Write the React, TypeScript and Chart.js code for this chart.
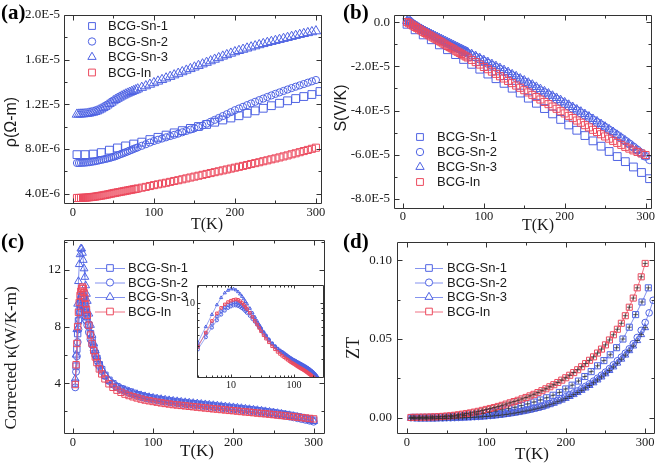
import React, { useEffect, useRef } from "react";
import { Chart, registerables } from "chart.js";
Chart.register(...registerables);

// ---------------- DATA ----------------
const NAMES = ["BCG-Sn-1", "BCG-Sn-2", "BCG-Sn-3", "BCG-In"];

const T_DENSE = [5, 10, 15, 20, 25, 30, 35, 40, 45, 50, 55, 60, 65, 70, 75, 80, 85, 90, 95, 100,
  105, 110, 115, 120, 125, 130, 135, 140, 145, 150, 155, 160, 165, 170, 175, 180, 185, 190, 195, 200,
  205, 210, 215, 220, 225, 230, 235, 240, 245, 250, 255, 260, 265, 270, 275, 280, 285, 290, 295, 300];
const T_LOW = [7.5, 12.5, 17.5, 22.5, 27.5, 32.5, 37.5, 42.5, 47.5, 52.5, 57.5, 62.5, 67.5, 72.5, 77.5];
const T_TAIL1 = [305];
const T_TAIL2 = [305, 310];
const T_SPARSE = [5, 15, 25, 35, 45, 55, 65, 75, 85, 95, 105, 115, 125, 135, 145, 155, 165, 175, 185, 195,
  205, 215, 225, 235, 245, 255, 265, 275, 285, 295, 305];

// (a) resistivity, in units of 1E-6 ohm-m
const A_SN1 = [7.50, 7.50, 7.55, 7.68, 7.90, 8.10, 8.28, 8.45, 8.62, 8.85, 9.05, 9.25, 9.45, 9.65, 9.85, 10.02,
  10.20, 10.40, 10.60, 10.78, 10.98, 11.20, 11.42, 11.65, 11.88, 12.10, 12.32, 12.52, 12.70, 12.88, 13.15];
const A_SN2 = [6.75, 6.76, 6.78, 6.82, 6.88, 6.95, 7.03, 7.11, 7.20, 7.30,
  7.43, 7.57, 7.71, 7.86, 8.01, 8.15, 8.29, 8.43, 8.58, 8.72,
  8.83, 8.94, 9.05, 9.16, 9.27, 9.38, 9.50, 9.62, 9.74, 9.86,
  9.98, 10.10, 10.27, 10.44, 10.61, 10.78, 10.95, 11.12, 11.30, 11.48,
  11.63, 11.78, 11.93, 12.08, 12.23, 12.38, 12.52, 12.66, 12.80, 12.94,
  13.07, 13.20, 13.33, 13.46, 13.58, 13.70, 13.82, 13.94, 14.06, 14.18];
const A_SN2_LOW = [6.75, 6.77, 6.80, 6.85, 6.91, 6.99, 7.07, 7.15, 7.25, 7.36, 7.50, 7.64, 7.78, 7.93, 8.08];
const A_SN3 = [11.10, 11.12, 11.15, 11.20, 11.28, 11.40, 11.58, 11.80, 12.05, 12.30,
  12.52, 12.72, 12.90, 13.06, 13.21, 13.36, 13.50, 13.64, 13.78, 13.92,
  14.06, 14.20, 14.34, 14.48, 14.62, 14.76, 14.90, 15.04, 15.18, 15.32,
  15.46, 15.60, 15.74, 15.88, 16.02, 16.16, 16.30, 16.43, 16.56, 16.69,
  16.80, 16.91, 17.02, 17.12, 17.22, 17.32, 17.42, 17.52, 17.61, 17.70,
  17.79, 17.88, 17.97, 18.06, 18.15, 18.24, 18.32, 18.40, 18.48, 18.56];
const A_SN3_LOW = [11.11, 11.13, 11.17, 11.24, 11.34, 11.49, 11.69, 11.92, 12.17, 12.41, 12.62, 12.81, 12.98, 13.13, 13.28];
const A_IN = [3.62, 3.63, 3.65, 3.68, 3.72, 3.77, 3.83, 3.90, 3.97, 4.05,
  4.12, 4.19, 4.26, 4.33, 4.40, 4.47, 4.54, 4.61, 4.69, 4.77,
  4.84, 4.91, 4.98, 5.06, 5.14, 5.21, 5.29, 5.37, 5.45, 5.53,
  5.61, 5.69, 5.77, 5.85, 5.93, 6.01, 6.09, 6.17, 6.25, 6.33,
  6.41, 6.49, 6.57, 6.66, 6.74, 6.82, 6.91, 6.99, 7.08, 7.16,
  7.25, 7.34, 7.43, 7.53, 7.62, 7.72, 7.82, 7.92, 8.02, 8.12];
const A_IN_LOW = [3.62, 3.64, 3.66, 3.70, 3.74, 3.80, 3.86, 3.93, 4.01, 4.08, 4.15, 4.22, 4.29, 4.36, 4.43];

// (b) Seebeck, in units of 1E-5 V/K
const B_SN1 = [-0.10, -0.35, -0.58, -0.80, -1.03, -1.25, -1.47, -1.69, -1.91, -2.13, -2.35, -2.56, -2.77, -2.99,
  -3.21, -3.44, -3.67, -3.91, -4.15, -4.40, -4.65, -4.89, -5.13, -5.37, -5.61, -5.85, -6.08, -6.31, -6.55, -6.80, -7.08];
const B_SN2 = [0.15, -0.02, -0.15, -0.27, -0.38, -0.48, -0.58, -0.68, -0.77, -0.87,
  -0.96, -1.05, -1.14, -1.23, -1.32, -1.41, -1.50, -1.59, -1.68, -1.77,
  -1.87, -1.96, -2.05, -2.14, -2.24, -2.33, -2.42, -2.52, -2.61, -2.71,
  -2.80, -2.90, -3.00, -3.10, -3.19, -3.29, -3.39, -3.49, -3.59, -3.69,
  -3.80, -3.90, -4.00, -4.11, -4.21, -4.32, -4.43, -4.54, -4.65, -4.76,
  -4.88, -5.00, -5.12, -5.25, -5.38, -5.51, -5.65, -5.79, -5.93, -6.07, -6.22];
const B_SN2_LOW = [0.06, -0.09, -0.21, -0.32, -0.43, -0.53, -0.63, -0.72, -0.82, -0.91, -1.00, -1.09, -1.18, -1.27, -1.36];
const B_SN3 = [0.05, -0.05, -0.16, -0.26, -0.36, -0.46, -0.55, -0.64, -0.73, -0.82,
  -0.91, -1.00, -1.09, -1.18, -1.27, -1.36, -1.45, -1.54, -1.63, -1.72,
  -1.81, -1.90, -1.99, -2.08, -2.17, -2.26, -2.36, -2.45, -2.55, -2.64,
  -2.74, -2.83, -2.93, -3.03, -3.13, -3.23, -3.33, -3.43, -3.53, -3.63,
  -3.74, -3.84, -3.95, -4.05, -4.16, -4.27, -4.38, -4.49, -4.61, -4.73,
  -4.85, -4.97, -5.10, -5.23, -5.36, -5.50, -5.64, -5.78, -5.93, -6.08];
const B_SN3_LOW = [0.00, -0.10, -0.21, -0.31, -0.41, -0.50, -0.59, -0.68, -0.77, -0.86, -0.95, -1.04, -1.13, -1.22, -1.31];
const B_IN = [0.00, -0.11, -0.22, -0.33, -0.44, -0.55, -0.65, -0.75, -0.86, -0.97,
  -1.08, -1.18, -1.29, -1.39, -1.50, -1.60, -1.71, -1.81, -1.92, -2.03,
  -2.13, -2.24, -2.34, -2.45, -2.55, -2.66, -2.76, -2.87, -2.97, -3.08,
  -3.18, -3.29, -3.39, -3.50, -3.61, -3.71, -3.82, -3.92, -4.03, -4.13,
  -4.24, -4.34, -4.45, -4.55, -4.66, -4.76, -4.87, -4.97, -5.07, -5.17,
  -5.27, -5.37, -5.46, -5.55, -5.64, -5.72, -5.80, -5.87, -5.94, -6.01];
const B_IN_LOW = [-0.05, -0.16, -0.27, -0.38, -0.49, -0.60, -0.70, -0.80, -0.91, -1.02, -1.13, -1.23, -1.34, -1.44, -1.55];

// (c) corrected thermal conductivity, W/K-m
const T_C = [3, 4, 5, 6, 7, 8, 9, 10, 11, 12, 13, 14, 15, 16, 17, 18, 20, 22, 24, 26, 28, 30, 33, 36, 40, 45, 50, 55, 60,
  65, 70, 75, 80, 85, 90, 95, 100, 105, 110, 115, 120, 125, 130, 135, 140, 145, 150, 155, 160, 165, 170, 175, 180,
  185, 190, 195, 200, 205, 210, 215, 220, 225, 230, 235, 240, 245, 250, 255, 260, 265, 270, 275, 280, 285, 290, 295, 300];
const C_SN1 = [4.0, 5.2, 6.4, 7.5, 8.4, 9.1, 9.6, 9.9, 10.1, 10.2, 10.1, 9.9, 9.6, 9.3, 9.0, 8.7,
  8.1, 7.5, 7.0, 6.5, 6.1, 5.75, 5.3, 4.95, 4.55, 4.2, 3.95, 3.75, 3.6,
  3.49, 3.38, 3.28, 3.18, 3.10, 3.03, 2.97, 2.92, 2.87, 2.82, 2.78, 2.74, 2.70, 2.67, 2.63, 2.6, 2.57, 2.54, 2.51,
  2.48, 2.45, 2.42, 2.39, 2.36, 2.33, 2.3, 2.27, 2.24, 2.21, 2.18, 2.15, 2.12, 2.09, 2.05, 2.02, 1.98, 1.94, 1.9,
  1.86, 1.82, 1.77, 1.72, 1.67, 1.62, 1.56, 1.5, 1.44, 1.37];
const C_SN2 = [3.7, 4.8, 5.9, 6.9, 7.8, 8.5, 9.0, 9.3, 9.5, 9.5, 9.4, 9.2, 8.95, 8.7, 8.4, 8.1,
  7.6, 7.1, 6.7, 6.3, 5.95, 5.6, 5.2, 4.85, 4.5, 4.15, 3.9, 3.7, 3.55,
  3.42, 3.3, 3.2, 3.1, 3.02, 2.95, 2.89, 2.83, 2.78, 2.73, 2.69, 2.65, 2.61, 2.58, 2.54, 2.51, 2.48, 2.45, 2.42,
  2.39, 2.36, 2.33, 2.3, 2.27, 2.24, 2.21, 2.18, 2.15, 2.12, 2.09, 2.06, 2.03, 2.0, 1.96, 1.93, 1.89, 1.85, 1.81,
  1.77, 1.73, 1.68, 1.63, 1.58, 1.52, 1.46, 1.4, 1.34, 1.27];
const C_SN3 = [4.3, 6.0, 7.8, 9.6, 11.2, 12.4, 13.1, 13.5, 13.5, 13.2, 12.7, 12.1, 11.5, 10.9, 10.3, 9.8,
  8.9, 8.1, 7.4, 6.8, 6.3, 5.9, 5.4, 5.0, 4.6, 4.2, 3.95, 3.75, 3.6,
  3.5, 3.4, 3.3, 3.21, 3.13, 3.06, 3.0, 2.95, 2.9, 2.86, 2.82, 2.78, 2.74, 2.71, 2.67, 2.64, 2.61, 2.58, 2.55,
  2.52, 2.49, 2.46, 2.43, 2.4, 2.37, 2.34, 2.31, 2.28, 2.25, 2.22, 2.18, 2.15, 2.11, 2.08, 2.04, 2.0, 1.96, 1.92,
  1.87, 1.82, 1.77, 1.72, 1.66, 1.6, 1.53, 1.46, 1.38, 1.3];
const C_IN = [3.9, 5.3, 6.8, 8.0, 9.0, 9.7, 10.2, 10.5, 10.7, 10.8, 10.7, 10.4, 10.0, 9.6, 9.2, 8.8,
  8.1, 7.4, 6.8, 6.3, 5.85, 5.45, 5.0, 4.65, 4.3, 3.95, 3.7, 3.5, 3.35,
  3.22, 3.12, 3.03, 2.95, 2.87, 2.8, 2.75, 2.7, 2.65, 2.6, 2.56, 2.52, 2.48, 2.45, 2.42, 2.39, 2.36, 2.33, 2.3,
  2.27, 2.24, 2.21, 2.18, 2.16, 2.13, 2.1, 2.07, 2.05, 2.02, 1.99, 1.96, 1.94, 1.91, 1.88, 1.85, 1.83, 1.8, 1.77,
  1.74, 1.71, 1.68, 1.65, 1.62, 1.59, 1.56, 1.53, 1.5, 1.47];

// (d) ZT
const D_T_SN1 = [8, 16, 24, 32, 40, 48, 56, 64, 72, 80, 88, 96, 104, 112, 120, 128, 136, 144, 152, 160,
  168, 176, 184, 192, 200, 208, 216, 224, 232, 240, 248, 256, 264, 272, 280, 288, 296, 304];
const D_SN1 = [0.0003, 0.0003, 0.0003, 0.0004, 0.0005, 0.0006, 0.0008, 0.0011, 0.0014, 0.0018,
  0.0023, 0.0028, 0.0035, 0.0042, 0.0050, 0.0058, 0.0067, 0.0077, 0.0088, 0.0100,
  0.0113, 0.0127, 0.0143, 0.0161, 0.0183, 0.0207, 0.0233, 0.0262, 0.0293, 0.0330,
  0.0363, 0.0400, 0.0445, 0.0500, 0.0575, 0.0655, 0.0735, 0.0825];
const D_SN2 = [0.0000, -0.0001, -0.0002, -0.0002, -0.0002, -0.0002, -0.0002, -0.0001, -0.0001, 0.0000,
  0.0000, 0.0001, 0.0002, 0.0003, 0.0004, 0.0005, 0.0007, 0.0008, 0.0010, 0.0012,
  0.0014, 0.0017, 0.0020, 0.0023, 0.0027, 0.0031, 0.0035, 0.0039, 0.0044, 0.0049,
  0.0055, 0.0061, 0.0067, 0.0074, 0.0082, 0.0091, 0.0101, 0.0111, 0.0122, 0.0134,
  0.0146, 0.0158, 0.0171, 0.0185, 0.0200, 0.0216, 0.0233, 0.0251, 0.0270, 0.0290,
  0.0312, 0.0336, 0.0362, 0.0385, 0.0410, 0.0438, 0.0470, 0.0510, 0.0555, 0.0605,
  0.0666, 0.0746];
const D_SN3 = [-0.0004, -0.0005, -0.0006, -0.0006, -0.0006, -0.0006, -0.0006, -0.0005, -0.0005, -0.0004,
  -0.0003, -0.0002, -0.0001, 0.0000, 0.0001, 0.0002, 0.0003, 0.0005, 0.0006, 0.0008,
  0.0010, 0.0012, 0.0015, 0.0018, 0.0021, 0.0025, 0.0029, 0.0033, 0.0038, 0.0043,
  0.0048, 0.0054, 0.0060, 0.0067, 0.0075, 0.0083, 0.0092, 0.0102, 0.0112, 0.0123,
  0.0135, 0.0147, 0.0160, 0.0174, 0.0189, 0.0205, 0.0222, 0.0240, 0.0259, 0.0279,
  0.0300, 0.0323, 0.0347, 0.0372, 0.0398, 0.0426, 0.0456, 0.0490, 0.0528, 0.0572];
const D_IN = [0.0002, 0.0003, 0.0003, 0.0004, 0.0004, 0.0005, 0.0006, 0.0007, 0.0009, 0.0011,
  0.0013, 0.0016, 0.0019, 0.0023, 0.0027, 0.0031, 0.0036, 0.0041, 0.0047, 0.0053,
  0.0059, 0.0065, 0.0072, 0.0079, 0.0087, 0.0095, 0.0103, 0.0111, 0.0120, 0.0129,
  0.0139, 0.0149, 0.0160, 0.0172, 0.0184, 0.0197, 0.0210, 0.0224, 0.0239, 0.0254,
  0.0270, 0.0287, 0.0305, 0.0324, 0.0344, 0.0365, 0.0387, 0.0411, 0.0436, 0.0463,
  0.0494, 0.0527, 0.0562, 0.0600, 0.0648, 0.0702, 0.0760, 0.0825, 0.0895, 0.0980];

// tick values
const T_MAJOR = [0, 100, 200, 300];
const T_MINOR = [50, 150, 250];
const A_Y_MAJOR = [4, 8, 12, 16, 20];
const A_Y_MINOR = [6, 10, 14, 18];
const B_Y_MAJOR = [0, -2, -4, -6, -8];
const B_Y_MINOR = [-1, -3, -5, -7];
const C_Y_MAJOR = [4, 8, 12];
const C_Y_MINOR = [2, 6, 10, 14];
const D_Y_MAJOR = [0, 0.05, 0.1];
const D_Y_MINOR = [0.025, 0.075];
const IN_X_MAJOR = [10, 100];
const IN_X_MINOR = [3, 4, 5, 6, 7, 8, 9, 20, 30, 40, 50, 60, 70, 80, 90, 200, 300];
const IN_Y_MAJOR = [10];
const IN_Y_MINOR = [2, 3, 4, 5, 6, 7, 8, 9];

// ---------------- STYLE ----------------
const SERIF = "'Liberation Serif', 'Times New Roman', serif";
const SANS = "'Liberation Sans', Arial, sans-serif";
const BLUE = "#4f63e3";
const RED = "#ec4a5e";
const BLUE_LINE = "rgba(110,128,236,0.85)";
const RED_LINE = "rgba(236,90,110,0.85)";
const TEXT = "#1a1a1a";
const FRAME = "#333333";
const CROSS = "rgba(45,45,45,0.75)";

type Mk = "rect" | "circle" | "triangle" | "cross";
type Item = { label: string; style: Mk; r: number; color: string; line?: string };
type TextPos = { text: string; x: number; y: number; font: string };
interface Spec {
  left: number; top: number; w: number; h: number;
  area: { l: number; t: number; r: number; b: number };
  xType: string; yType: string;
  xMin: number; xMax: number; yMin: number; yMax: number;
  xTicks: number[]; xMinor: number[]; yTicks: number[]; yMinor: number[];
  xFmt: (v: number) => string; yFmt: (v: number) => string;
  xFont: number; yFont: number; xPad: number; yPad: number;
  majorLen: number; minorLen: number;
  xTitle?: TextPos; yTitle?: TextPos; label?: TextPos;
  legend?: { items: Item[]; rows: number[]; mx: number; tx: number; lx0?: number; lx1?: number; font: string };
  datasets: any[];
  fillArea?: boolean;
}

function pts(xs: number[], ys: number[]) {
  return xs.map((x, i) => ({ x, y: ys[i] }));
}

function ds(label: string, xs: number[], ys: number[], style: Mk, r: number, color: string, extra: any = {}) {
  return {
    label,
    data: pts(xs, ys),
    pointStyle: style,
    pointRadius: r,
    pointBorderColor: color,
    pointBackgroundColor: "rgba(0,0,0,0)",
    pointBorderWidth: 1,
    showLine: false,
    borderColor: color,
    borderWidth: 1,
    order: 1,
    ...extra,
  };
}

function drawMarker(ctx: CanvasRenderingContext2D, style: Mk, x: number, y: number, r: number) {
  ctx.beginPath();
  if (style === "rect") {
    const s = r * Math.SQRT1_2;
    ctx.rect(x - s, y - s, 2 * s, 2 * s);
  } else if (style === "circle") {
    ctx.arc(x, y, r, 0, Math.PI * 2);
  } else if (style === "triangle") {
    ctx.moveTo(x, y - r);
    ctx.lineTo(x + 0.866 * r, y + 0.5 * r);
    ctx.lineTo(x - 0.866 * r, y + 0.5 * r);
    ctx.closePath();
  }
  ctx.fillStyle = "#ffffff";
  ctx.fill();
  ctx.stroke();
}

function makeDecor(s: Spec) {
  return {
    id: "decor",
    beforeDraw(chart: any) {
      if (!s.fillArea) return;
      const a = chart.chartArea;
      const ctx = chart.ctx;
      ctx.save();
      ctx.fillStyle = "#ffffff";
      ctx.fillRect(a.left, a.top, a.right - a.left, a.bottom - a.top);
      ctx.restore();
    },
    afterDraw(chart: any) {
      const ctx: CanvasRenderingContext2D = chart.ctx;
      const a = chart.chartArea;
      const xs = chart.scales.x;
      const ys = chart.scales.y;
      ctx.save();
      const L = Math.round(a.left) + 0.5;
      const R = Math.round(a.right) - 0.5;
      const T = Math.round(a.top) + 0.5;
      const B = Math.round(a.bottom) - 0.5;
      ctx.strokeStyle = FRAME;
      ctx.lineWidth = 1;
      ctx.beginPath();
      ctx.rect(L, T, R - L, B - T);
      const hTicks = (vals: number[], len: number) => {
        for (const v of vals) {
          const p = Math.round(xs.getPixelForValue(v)) + 0.5;
          if (p < L || p > R) continue;
          ctx.moveTo(p, B); ctx.lineTo(p, B - len);
          ctx.moveTo(p, T); ctx.lineTo(p, T + len);
        }
      };
      const vTicks = (vals: number[], len: number) => {
        for (const v of vals) {
          const p = Math.round(ys.getPixelForValue(v)) + 0.5;
          if (p < T || p > B) continue;
          ctx.moveTo(L, p); ctx.lineTo(L + len, p);
          ctx.moveTo(R, p); ctx.lineTo(R - len, p);
        }
      };
      hTicks(s.xTicks, s.majorLen);
      hTicks(s.xMinor, s.minorLen);
      vTicks(s.yTicks, s.majorLen);
      vTicks(s.yMinor, s.minorLen);
      ctx.stroke();

      ctx.fillStyle = TEXT;
      ctx.textBaseline = "middle";
      if (s.xTitle) {
        ctx.font = s.xTitle.font;
        ctx.textAlign = "center";
        ctx.fillText(s.xTitle.text, s.xTitle.x, s.xTitle.y);
      }
      if (s.yTitle) {
        ctx.save();
        ctx.font = s.yTitle.font;
        ctx.textAlign = "center";
        ctx.translate(s.yTitle.x, s.yTitle.y);
        ctx.rotate(-Math.PI / 2);
        ctx.fillText(s.yTitle.text, 0, 0);
        ctx.restore();
      }
      if (s.label) {
        ctx.font = s.label.font;
        ctx.textAlign = "left";
        ctx.fillStyle = "#000";
        ctx.fillText(s.label.text, s.label.x, s.label.y);
      }
      if (s.legend) {
        const lg = s.legend;
        lg.items.forEach((it, i) => {
          const y = lg.rows[i];
          if (lg.lx0 !== undefined && lg.lx1 !== undefined && it.line) {
            ctx.strokeStyle = it.line;
            ctx.lineWidth = 1;
            ctx.beginPath();
            ctx.moveTo(lg.lx0, y + 0.5);
            ctx.lineTo(lg.lx1, y + 0.5);
            ctx.stroke();
          }
          ctx.strokeStyle = it.color;
          ctx.lineWidth = 1;
          drawMarker(ctx, it.style, lg.mx, y, it.r);
          ctx.fillStyle = TEXT;
          ctx.font = lg.font;
          ctx.textAlign = "left";
          ctx.textBaseline = "middle";
          ctx.fillText(it.label, lg.tx, y + 0.5);
        });
      }
      ctx.restore();
    },
  };
}

function buildConfig(s: Spec): any {
  return {
    type: "line",
    data: { datasets: s.datasets },
    options: {
      animation: false,
      responsive: false,
      devicePixelRatio: 1,
      events: [],
      layout: { padding: { left: 0, top: s.area.t, right: s.w - s.area.r, bottom: 0 } },
      plugins: { legend: { display: false }, tooltip: { enabled: false }, title: { display: false } },
      scales: {
        x: {
          type: s.xType,
          min: s.xMin,
          max: s.xMax,
          grid: { display: false, drawTicks: false },
          border: { display: false },
          afterBuildTicks: (sc: any) => { sc.ticks = s.xTicks.map((v) => ({ value: v })); },
          afterFit: (sc: any) => { sc.height = s.h - s.area.b; },
          ticks: {
            autoSkip: false, maxRotation: 0, minRotation: 0, padding: s.xPad, color: TEXT,
            font: { family: SERIF, size: s.xFont },
            callback: (v: any) => s.xFmt(Number(v)),
          },
        },
        y: {
          type: s.yType,
          min: s.yMin,
          max: s.yMax,
          grid: { display: false, drawTicks: false },
          border: { display: false },
          afterBuildTicks: (sc: any) => { sc.ticks = s.yTicks.map((v) => ({ value: v })); },
          afterFit: (sc: any) => { sc.width = s.area.l; },
          ticks: {
            autoSkip: false, padding: s.yPad, color: TEXT,
            font: { family: SERIF, size: s.yFont },
            callback: (v: any) => s.yFmt(Number(v)),
          },
        },
      },
    },
    plugins: [makeDecor(s)],
  };
}

const fmtInt = (v: number) => String(Math.round(v));
const fmtE6 = (v: number) => (v * 1e-6).toExponential(1).toUpperCase();
const fmtE5 = (v: number) => (Math.abs(v) < 1e-9 ? "0.0" : (v * 1e-5).toExponential(1).toUpperCase());

const legendItems = (sizes: number[], lines: boolean): Item[] => [
  { label: NAMES[0], style: "rect", r: sizes[0], color: BLUE, line: lines ? BLUE_LINE : undefined },
  { label: NAMES[1], style: "circle", r: sizes[1], color: BLUE, line: lines ? BLUE_LINE : undefined },
  { label: NAMES[2], style: "triangle", r: sizes[2], color: BLUE, line: lines ? BLUE_LINE : undefined },
  { label: NAMES[3], style: "rect", r: sizes[3], color: RED, line: lines ? RED_LINE : undefined },
];

const SPEC_A: Spec = {
  left: 0, top: 0, w: 330, h: 235,
  area: { l: 64, t: 15, r: 322, b: 204 },
  xType: "linear", yType: "linear",
  xMin: -11, xMax: 307.5, yMin: 3.08, yMax: 20,
  xTicks: T_MAJOR, xMinor: T_MINOR, yTicks: A_Y_MAJOR, yMinor: A_Y_MINOR,
  xFmt: fmtInt, yFmt: fmtE6, xFont: 12.5, yFont: 13, xPad: 1, yPad: 4,
  majorLen: 5, minorLen: 3,
  xTitle: { text: "T(K)", x: 207, y: 225, font: `16px ${SERIF}` },
  yTitle: { text: "ρ(Ω-m)", x: 12, y: 122, font: `16px ${SANS}` },
  label: { text: "(a)", x: 1, y: 14, font: `bold 21px ${SERIF}` },
  legend: { items: legendItems([4.8, 3.7, 4.8, 4.8], false), rows: [26, 41.5, 57, 72.5], mx: 92, tx: 108, font: `13px ${SANS}` },
  datasets: [
    ds(NAMES[0], T_SPARSE, A_SN1, "rect", 5.5, BLUE),
    ds(NAMES[1], [...T_DENSE, ...T_LOW], [...A_SN2, ...A_SN2_LOW], "circle", 3.6, BLUE),
    ds(NAMES[2], [...T_DENSE, ...T_LOW], [...A_SN3, ...A_SN3_LOW], "triangle", 5.5, BLUE),
    ds(NAMES[3], [...T_DENSE, ...T_LOW], [...A_IN, ...A_IN_LOW], "rect", 5, RED, { order: 0 }),
  ],
};

const SPEC_B: Spec = {
  left: 330, top: 0, w: 330, h: 235,
  area: { l: 64, t: 15, r: 322, b: 209 },
  xType: "linear", yType: "linear",
  xMin: -11.1, xMax: 308, yMin: -8.45, yMax: 0.32,
  xTicks: T_MAJOR, xMinor: T_MINOR, yTicks: B_Y_MAJOR, yMinor: B_Y_MINOR,
  xFmt: fmtInt, yFmt: fmtE5, xFont: 12.5, yFont: 13, xPad: 0, yPad: 4,
  majorLen: 5, minorLen: 3,
  xTitle: { text: "T(K)", x: 208, y: 226, font: `16px ${SERIF}` },
  yTitle: { text: "S(V/K)", x: 12, y: 108, font: `16px ${SANS}` },
  label: { text: "(b)", x: 13, y: 14, font: `bold 21px ${SERIF}` },
  legend: { items: legendItems([4.8, 3.7, 4.8, 4.8], false), rows: [137, 152, 167, 182], mx: 90, tx: 107, font: `13px ${SANS}` },
  datasets: [
    ds(NAMES[0], T_SPARSE, B_SN1, "rect", 5.5, BLUE),
    ds(NAMES[1], [...T_DENSE, ...T_TAIL1, ...T_LOW], [...B_SN2, ...B_SN2_LOW], "circle", 4, BLUE),
    ds(NAMES[2], [...T_DENSE, ...T_LOW], [...B_SN3, ...B_SN3_LOW], "triangle", 5, BLUE),
    ds(NAMES[3], [...T_DENSE, ...T_LOW], [...B_IN, ...B_IN_LOW], "rect", 5, RED, { order: 0 }),
  ],
};

const lineOpts = (c: string) => ({ showLine: true, borderColor: c, borderWidth: 1 });

const SPEC_C: Spec = {
  left: 0, top: 226, w: 330, h: 243,
  area: { l: 64, t: 14, r: 328, b: 208 },
  xType: "linear", yType: "linear",
  xMin: -11, xMax: 313.5, yMin: 0.4, yMax: 14.12,
  xTicks: T_MAJOR, xMinor: T_MINOR, yTicks: C_Y_MAJOR, yMinor: C_Y_MINOR,
  xFmt: fmtInt, yFmt: fmtInt, xFont: 12.5, yFont: 13, xPad: 1, yPad: 3,
  majorLen: 5, minorLen: 3,
  xTitle: { text: "T(K)", x: 197, y: 226, font: `17px ${SERIF}` },
  yTitle: { text: "Corrected κ(W/K-m)", x: 12, y: 132, font: `17px ${SERIF}` },
  label: { text: "(c)", x: 1, y: 17, font: `bold 21px ${SERIF}` },
  legend: { items: legendItems([4.7, 3.6, 4.7, 4.7], true), rows: [42, 56.5, 71, 85.5], mx: 110, tx: 128, lx0: 95, lx1: 125, font: `13px ${SANS}` },
  datasets: [
    ds(NAMES[0], T_C, C_SN1, "rect", 4.5, BLUE, lineOpts(BLUE_LINE)),
    ds(NAMES[1], T_C, C_SN2, "circle", 3.5, BLUE, lineOpts(BLUE_LINE)),
    ds(NAMES[2], T_C, C_SN3, "triangle", 4.5, BLUE, lineOpts(BLUE_LINE)),
    ds(NAMES[3], T_C, C_IN, "rect", 4.5, RED, { ...lineOpts(RED_LINE), order: 0 }),
  ],
};

const SPEC_INSET: Spec = {
  left: 175, top: 275, w: 155, h: 125,
  area: { l: 22, t: 10, r: 149, b: 103 },
  xType: "logarithmic", yType: "logarithmic",
  xMin: 2.9, xMax: 300, yMin: 2.0, yMax: 14.7,
  xTicks: IN_X_MAJOR, xMinor: IN_X_MINOR, yTicks: IN_Y_MAJOR, yMinor: IN_Y_MINOR,
  xFmt: fmtInt, yFmt: fmtInt, xFont: 10, yFont: 10, xPad: 1, yPad: 2,
  majorLen: 3, minorLen: 2,
  fillArea: true,
  datasets: [
    ds(NAMES[0], T_C, C_SN1, "rect", 1.8, BLUE, { showLine: true, borderColor: BLUE_LINE, borderWidth: 0.8 }),
    ds(NAMES[1], T_C, C_SN2, "circle", 1.6, BLUE, { showLine: true, borderColor: BLUE_LINE, borderWidth: 0.8 }),
    ds(NAMES[2], T_C, C_SN3, "triangle", 1.8, BLUE, { showLine: true, borderColor: BLUE_LINE, borderWidth: 0.8 }),
    ds(NAMES[3], T_C, C_IN, "rect", 1.8, RED, { showLine: true, borderColor: RED_LINE, borderWidth: 0.8, order: 0 }),
  ],
};

const crossOpts = { pointStyle: "cross", pointBorderColor: CROSS, order: -1 };

const SPEC_D: Spec = {
  left: 330, top: 226, w: 330, h: 243,
  area: { l: 67, t: 16, r: 327, b: 208 },
  xType: "linear", yType: "linear",
  xMin: -12.5, xMax: 312, yMin: -0.0103, yMax: 0.1116,
  xTicks: T_MAJOR, xMinor: T_MINOR, yTicks: D_Y_MAJOR, yMinor: D_Y_MINOR,
  xFmt: fmtInt, yFmt: (v: number) => v.toFixed(2), xFont: 12.5, yFont: 13, xPad: 1, yPad: 5,
  majorLen: 5, minorLen: 3,
  xTitle: { text: "T(K)", x: 202, y: 229, font: `17px ${SERIF}` },
  yTitle: { text: "ZT", x: 24, y: 122, font: `18px ${SERIF}` },
  label: { text: "(d)", x: 13, y: 17, font: `bold 21px ${SERIF}` },
  legend: { items: legendItems([4.7, 3.6, 4.7, 4.7], true), rows: [42, 56.5, 71, 85.5], mx: 99, tx: 117, lx0: 85, lx1: 113, font: `13px ${SANS}` },
  datasets: [
    ds("", D_T_SN1, D_SN1, "cross", 2.5, CROSS, crossOpts),
    ds("", T_DENSE, D_SN3, "cross", 2.5, CROSS, crossOpts),
    ds("", T_DENSE, D_IN, "cross", 2.5, CROSS, crossOpts),
    ds(NAMES[0], D_T_SN1, D_SN1, "rect", 4.3, BLUE, lineOpts(BLUE_LINE)),
    ds(NAMES[1], [...T_DENSE, ...T_TAIL2], D_SN2, "circle", 3.3, BLUE, lineOpts(BLUE_LINE)),
    ds(NAMES[2], T_DENSE, D_SN3, "triangle", 4, BLUE, lineOpts(BLUE_LINE)),
    ds(NAMES[3], T_DENSE, D_IN, "rect", 4.3, RED, { ...lineOpts(RED_LINE), order: 0 }),
  ],
};

function Panel({ spec }: { spec: Spec }) {
  const ref = useRef<HTMLCanvasElement | null>(null);
  useEffect(() => {
    if (!ref.current) return;
    const chart = new Chart(ref.current, buildConfig(spec));
    return () => chart.destroy();
  }, [spec]);
  return (
    <canvas
      ref={ref}
      width={spec.w}
      height={spec.h}
      style={{ position: "absolute", left: spec.left, top: spec.top, width: spec.w, height: spec.h }}
    />
  );
}

export default function App() {
  return (
    <div style={{ position: "absolute", left: 0, top: 0, width: 660, height: 469, background: "#ffffff", overflow: "hidden" }}>
      <Panel spec={SPEC_A} />
      <Panel spec={SPEC_B} />
      <Panel spec={SPEC_C} />
      <Panel spec={SPEC_D} />
      <Panel spec={SPEC_INSET} />
    </div>
  );
}
